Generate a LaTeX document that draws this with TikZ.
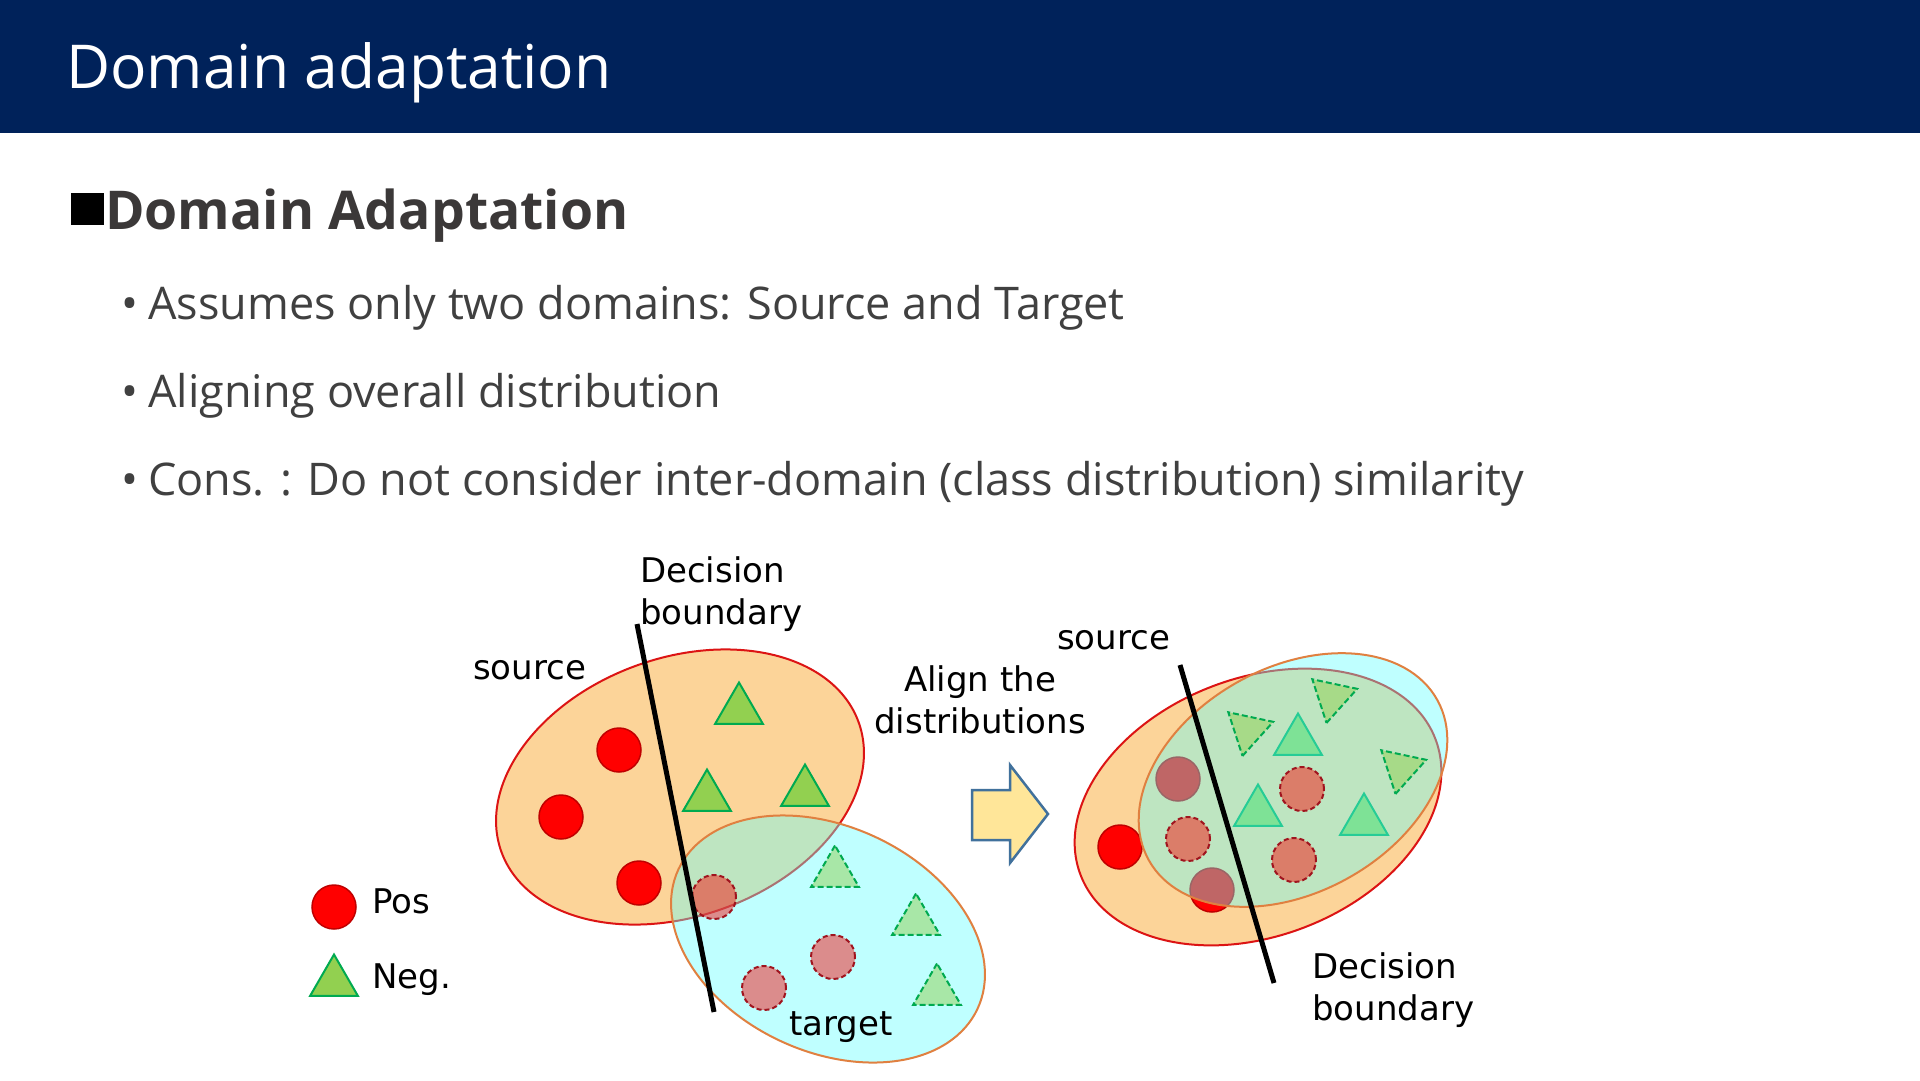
\documentclass[tikz,border=0pt]{standalone}
\usepackage{fontspec}
\setmainfont{Open Sans}
\newfontfamily\lblfont{DejaVu Sans}
\usetikzlibrary{shapes.geometric}
\definecolor{navy}{RGB}{0,34,90}
\definecolor{srcfill}{RGB}{252,212,153}
\definecolor{srcline}{RGB}{220,20,20}
\definecolor{tgtfill}{RGB}{97,255,255}
\definecolor{tgtline}{RGB}{224,128,64}
\definecolor{posred}{RGB}{255,0,0}
\definecolor{posline}{RGB}{192,0,0}
\definecolor{tposline}{RGB}{160,20,30}
\definecolor{negfill}{RGB}{146,208,80}
\definecolor{negline}{RGB}{0,170,80}
\definecolor{arrfill}{RGB}{255,230,153}
\definecolor{arrline}{RGB}{65,113,156}
\definecolor{headtxt}{RGB}{59,56,56}
\definecolor{bodytxt}{RGB}{64,64,64}
\begin{document}
\begin{tikzpicture}[x=1pt,y=-1pt,
  srcell/.style={ellipse, draw=srcline, fill=srcfill, line width=2pt, inner sep=0pt, minimum width=380pt, minimum height=258pt},
  tgtell/.style={ellipse, draw=tgtline, fill=tgtfill, fill opacity=0.4, line width=2pt, inner sep=0pt, minimum width=330pt, minimum height=225pt},
  posdot/.style={circle, fill=posred, draw=posline, line width=1.5pt, minimum size=44pt, inner sep=0pt},
  tposdot/.style={circle, fill=red, fill opacity=0.45, draw=tposline, line width=2pt, dash pattern=on 5pt off 3pt, minimum size=44pt, inner sep=0pt},
  negtri/.style={regular polygon, regular polygon sides=3, fill=negfill, draw=negline, line width=2pt, minimum size=55pt, inner sep=0pt},
  tnegtri/.style={regular polygon, regular polygon sides=3, fill=negfill, fill opacity=0.5, draw=negline, line width=2pt, dash pattern=on 6pt off 3pt, minimum size=55pt, inner sep=0pt},
  bline/.style={line width=5pt, black},
  lbl/.style={anchor=base west, inner sep=0pt, text=black, font=\lblfont\fontsize{34}{42}\selectfont},
  lblc/.style={anchor=base, inner sep=0pt, text=black, font=\lblfont\fontsize{34}{42}\selectfont},
  bodyline/.style={anchor=base west, inner sep=0pt, text=bodytxt, font=\fontsize{45}{54}\selectfont},
  arrowshape/.style={fill=arrfill, draw=arrline, line width=2.5pt, line join=miter}
]
\useasboundingbox (0,0) rectangle (1920,1080);
\fill[white] (0,0) rectangle (1920,1080);
% header
\fill[navy] (0,0) rectangle (1920,133);
\node[anchor=base west, inner sep=0pt, text=white, font=\fontsize{60.5}{72}\selectfont] (title) at (66,88) {Domain adaptation};
% heading
\node[rectangle, fill=black, minimum width=33pt, minimum height=32pt, inner sep=0pt, anchor=north west] (sq) at (71,193) {};
\node[anchor=base west, inner sep=0pt, text=headtxt, font=\bfseries\fontsize{53.5}{62}\selectfont] (head) at (105,229) {Domain Adaptation};
% bullets
\node[bodyline] (b1d) at (121,319) {•};
\node[bodyline] (b1) at (148,319) {Assumes only two domains: Source and Target};
\node[bodyline] (b2d) at (121,407) {•};
\node[bodyline] (b2) at (148,407) {Aligning overall distribution};
\node[bodyline] (b3d) at (121,495) {•};
\node[bodyline] (b3) at (148,495) {Cons. : Do not consider inter-domain (class distribution) similarity};

% ---------- left diagram ----------
\node[srcell, rotate=20] (srcL) at (680,787) {};
\node[posdot] (pL1) at (619,750) {};
\node[posdot] (pL2) at (561,817) {};
\node[posdot] (pL3) at (639,883) {};
\node[negtri] (nL1) at (739,710) {};
\node[negtri] (nL2) at (707,797) {};
\node[negtri] (nL3) at (805,792) {};
\node[tgtell, rotate=-25] (tgtL) at (828,939) {};
\node[tposdot] (tpL1) at (714,897) {};
\node[tposdot] (tpL2) at (833,957) {};
\node[tposdot] (tpL3) at (764,988) {};
\node[tnegtri] (tnL1) at (835,873) {};
\node[tnegtri] (tnL2) at (916,921) {};
\node[tnegtri] (tnL3) at (937,991) {};
\coordinate (dL1) at (637,624);
\coordinate (dL2) at (714,1012);
\draw[bline] (dL1) -- (dL2);
\node[lbl] (decL1) at (640,582) {Decision};
\node[lbl] (decL2) at (640,624) {boundary};
\node[lbl] (srcLlbl) at (473,679) {source};
\node[lbl] (tgtLlbl) at (789,1035) {target};

% legend
\node[posdot] (legP) at (334,907) {};
\node[lbl] (legPt) at (372,913) {Pos};
\node[negtri] (legN) at (334,982) {};
\node[lbl] (legNt) at (372,988) {Neg.};

% arrow
\draw[arrowshape] (972,790) -- (1010,790) -- (1010,765) -- (1048,814) -- (1010,863) -- (1010,840) -- (972,840) -- cycle;
\node[lblc] (al1) at (980,691) {Align the};
\node[lblc] (al2) at (980,733) {distributions};

% ---------- right diagram ----------
\node[srcell, rotate=21] (srcR) at (1258,807) {};
\node[negtri] (nR1) at (1298,741) {};
\node[negtri] (nR2) at (1258,812) {};
\node[negtri] (nR3) at (1364,821) {};
\node[posdot] (pR1) at (1120,847) {};
\node[posdot] (pR2) at (1178,779) {};
\node[posdot] (pR3) at (1212,890) {};
\node[tgtell, rotate=29] (tgtR) at (1293,780) {};
\node[tposdot] (tpR1) at (1188,839) {};
\node[tposdot] (tpR2) at (1302,789) {};
\node[tposdot] (tpR3) at (1294,860) {};
\node[tnegtri, rotate=168, minimum size=53pt] (tnR1) at (1248,730) {};
\node[tnegtri, rotate=168, minimum size=53pt] (tnR2) at (1332,697) {};
\node[tnegtri, rotate=168, minimum size=53pt] (tnR3) at (1401,768) {};
\coordinate (dR1) at (1180,665);
\coordinate (dR2) at (1274,983);
\draw[bline] (dR1) -- (dR2);
\node[lbl] (srcRlbl) at (1057,649) {source};
\node[lbl] (decR1) at (1312,978) {Decision};
\node[lbl] (decR2) at (1312,1020) {boundary};
\end{tikzpicture}
\end{document}
